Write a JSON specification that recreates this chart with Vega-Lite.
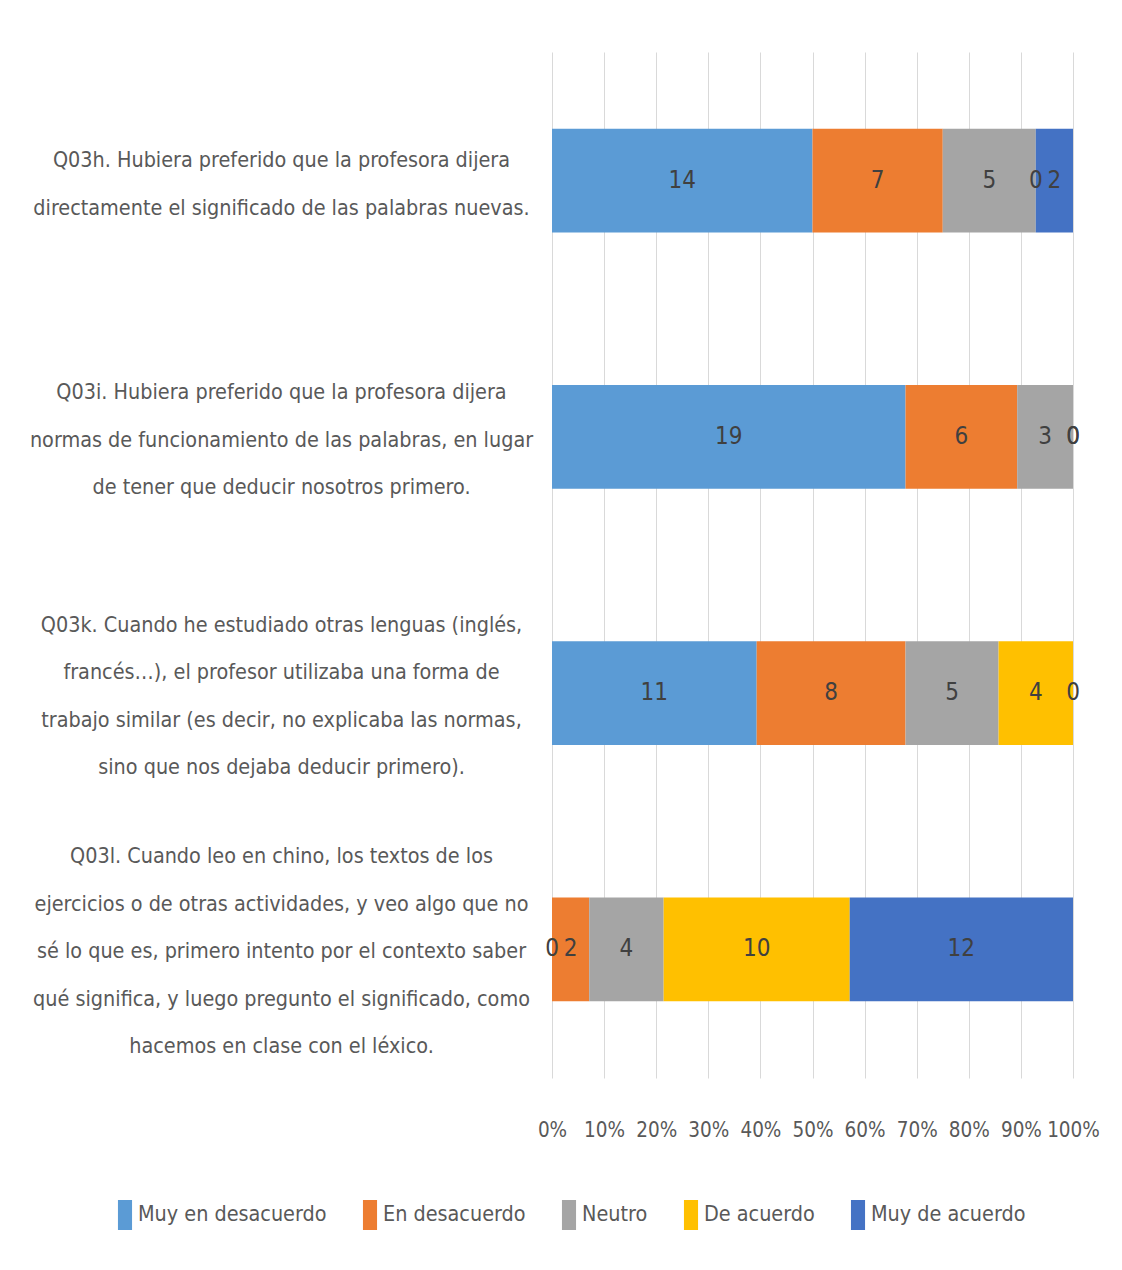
{
  "$schema": "https://vega.github.io/schema/vega-lite/v6.json",
  "autosize": {"type": "none"},
  "padding": {"left": 552, "top": 52, "right": 49, "bottom": 192},
  "width": 521,
  "height": 1026,
  "background": "white",
  "config": {
    "view": {"stroke": null},
    "font": "DejaVu Sans Condensed, sans-serif",
    "text": {"font": "DejaVu Sans Condensed, sans-serif"}
  },
  "data": {
    "values": [
      {"pregunta": "Q03h. Hubiera preferido que la profesora dijera|directamente el significado de las palabras nuevas.", "respuesta": "Muy en desacuerdo", "orden": 1, "n": 14},
      {"pregunta": "Q03h. Hubiera preferido que la profesora dijera|directamente el significado de las palabras nuevas.", "respuesta": "En desacuerdo", "orden": 2, "n": 7},
      {"pregunta": "Q03h. Hubiera preferido que la profesora dijera|directamente el significado de las palabras nuevas.", "respuesta": "Neutro", "orden": 3, "n": 5},
      {"pregunta": "Q03h. Hubiera preferido que la profesora dijera|directamente el significado de las palabras nuevas.", "respuesta": "De acuerdo", "orden": 4, "n": 0},
      {"pregunta": "Q03h. Hubiera preferido que la profesora dijera|directamente el significado de las palabras nuevas.", "respuesta": "Muy de acuerdo", "orden": 5, "n": 2},
      {"pregunta": "Q03i. Hubiera preferido que la profesora dijera|normas de funcionamiento de las palabras, en lugar|de tener que deducir nosotros primero.", "respuesta": "Muy en desacuerdo", "orden": 1, "n": 19},
      {"pregunta": "Q03i. Hubiera preferido que la profesora dijera|normas de funcionamiento de las palabras, en lugar|de tener que deducir nosotros primero.", "respuesta": "En desacuerdo", "orden": 2, "n": 6},
      {"pregunta": "Q03i. Hubiera preferido que la profesora dijera|normas de funcionamiento de las palabras, en lugar|de tener que deducir nosotros primero.", "respuesta": "Neutro", "orden": 3, "n": 3},
      {"pregunta": "Q03i. Hubiera preferido que la profesora dijera|normas de funcionamiento de las palabras, en lugar|de tener que deducir nosotros primero.", "respuesta": "De acuerdo", "orden": 4, "n": 0},
      {"pregunta": "Q03i. Hubiera preferido que la profesora dijera|normas de funcionamiento de las palabras, en lugar|de tener que deducir nosotros primero.", "respuesta": "Muy de acuerdo", "orden": 5, "n": 0},
      {"pregunta": "Q03k. Cuando he estudiado otras lenguas (inglés,|francés…), el profesor utilizaba una forma de|trabajo similar (es decir, no explicaba las normas,|sino que nos dejaba deducir primero).", "respuesta": "Muy en desacuerdo", "orden": 1, "n": 11},
      {"pregunta": "Q03k. Cuando he estudiado otras lenguas (inglés,|francés…), el profesor utilizaba una forma de|trabajo similar (es decir, no explicaba las normas,|sino que nos dejaba deducir primero).", "respuesta": "En desacuerdo", "orden": 2, "n": 8},
      {"pregunta": "Q03k. Cuando he estudiado otras lenguas (inglés,|francés…), el profesor utilizaba una forma de|trabajo similar (es decir, no explicaba las normas,|sino que nos dejaba deducir primero).", "respuesta": "Neutro", "orden": 3, "n": 5},
      {"pregunta": "Q03k. Cuando he estudiado otras lenguas (inglés,|francés…), el profesor utilizaba una forma de|trabajo similar (es decir, no explicaba las normas,|sino que nos dejaba deducir primero).", "respuesta": "De acuerdo", "orden": 4, "n": 4},
      {"pregunta": "Q03k. Cuando he estudiado otras lenguas (inglés,|francés…), el profesor utilizaba una forma de|trabajo similar (es decir, no explicaba las normas,|sino que nos dejaba deducir primero).", "respuesta": "Muy de acuerdo", "orden": 5, "n": 0},
      {"pregunta": "Q03l. Cuando leo en chino, los textos de los|ejercicios o de otras actividades, y veo algo que no|sé lo que es, primero intento por el contexto saber|qué significa, y luego pregunto el significado, como|hacemos en clase con el léxico.", "respuesta": "Muy en desacuerdo", "orden": 1, "n": 0},
      {"pregunta": "Q03l. Cuando leo en chino, los textos de los|ejercicios o de otras actividades, y veo algo que no|sé lo que es, primero intento por el contexto saber|qué significa, y luego pregunto el significado, como|hacemos en clase con el léxico.", "respuesta": "En desacuerdo", "orden": 2, "n": 2},
      {"pregunta": "Q03l. Cuando leo en chino, los textos de los|ejercicios o de otras actividades, y veo algo que no|sé lo que es, primero intento por el contexto saber|qué significa, y luego pregunto el significado, como|hacemos en clase con el léxico.", "respuesta": "Neutro", "orden": 3, "n": 4},
      {"pregunta": "Q03l. Cuando leo en chino, los textos de los|ejercicios o de otras actividades, y veo algo que no|sé lo que es, primero intento por el contexto saber|qué significa, y luego pregunto el significado, como|hacemos en clase con el léxico.", "respuesta": "De acuerdo", "orden": 4, "n": 10},
      {"pregunta": "Q03l. Cuando leo en chino, los textos de los|ejercicios o de otras actividades, y veo algo que no|sé lo que es, primero intento por el contexto saber|qué significa, y luego pregunto el significado, como|hacemos en clase con el léxico.", "respuesta": "Muy de acuerdo", "orden": 5, "n": 12}
    ]
  },
  "encoding": {
    "y": {
      "field": "pregunta",
      "type": "nominal",
      "sort": null,
      "title": null,
      "scale": {"paddingInner": 0.595, "paddingOuter": 0.3},
      "axis": {
        "domain": false,
        "ticks": false,
        "tickSize": 0,
        "labelExpr": "split(datum.label, '|')",
        "labelAlign": "center",
        "labelBaseline": "middle",
        "labelPadding": 271,
        "labelLineHeight": 47.5,
        "labelLimit": 0,
        "labelFontSize": 21.4,
        "labelColor": "#595959",
        "labelOffset": {
          "condition": [
            {"test": "indexof(datum.value, 'Q03h') == 0", "value": -19.5},
            {"test": "indexof(datum.value, 'Q03i') == 0", "value": -43.5},
            {"test": "indexof(datum.value, 'Q03k') == 0", "value": -67.5}
          ],
          "value": -92
        }
      }
    },
    "order": {"field": "orden", "type": "quantitative"}
  },
  "layer": [
    {
      "mark": {"type": "bar"},
      "encoding": {
        "x": {
          "field": "n",
          "type": "quantitative",
          "stack": "normalize",
          "title": null,
          "scale": {"domain": [0, 1]},
          "axis": {
            "values": [0, 0.1, 0.2, 0.3, 0.4, 0.5, 0.6, 0.7, 0.8, 0.9, 1],
            "format": ".0%",
            "domain": false,
            "ticks": false,
            "tickSize": 0,
            "grid": true,
            "gridColor": "#d9d9d9",
            "gridWidth": 1,
            "labelOverlap": false,
            "labelFlush": false,
            "labelPadding": 42,
            "labelFontSize": 20.5,
            "labelColor": "#595959"
          }
        },
        "color": {
          "field": "respuesta",
          "type": "nominal",
          "scale": {
            "domain": ["Muy en desacuerdo", "En desacuerdo", "Neutro", "De acuerdo", "Muy de acuerdo"],
            "range": ["#5B9BD5", "#ED7D31", "#A5A5A5", "#FFC000", "#4472C4"]
          },
          "legend": {
            "title": null,
            "orient": "none",
            "direction": "horizontal",
            "columns": 5,
            "legendX": -442,
            "legendY": 1148,
            "symbolType": "M-0.47,-1H0.47V1H-0.47Z",
            "symbolSize": 900,
            "symbolStrokeWidth": 0,
            "labelFontSize": 21.4,
            "labelColor": "#595959",
            "labelOffset": -2,
            "columnPadding": 28,
            "labelLimit": 0
          }
        }
      }
    },
    {
      "mark": {"type": "text", "fontSize": 24, "color": "#404040", "baseline": "middle", "align": "center"},
      "encoding": {
        "x": {"field": "n", "type": "quantitative", "stack": "normalize", "bandPosition": 0.5},
        "text": {"field": "n", "type": "quantitative"}
      }
    }
  ]
}
